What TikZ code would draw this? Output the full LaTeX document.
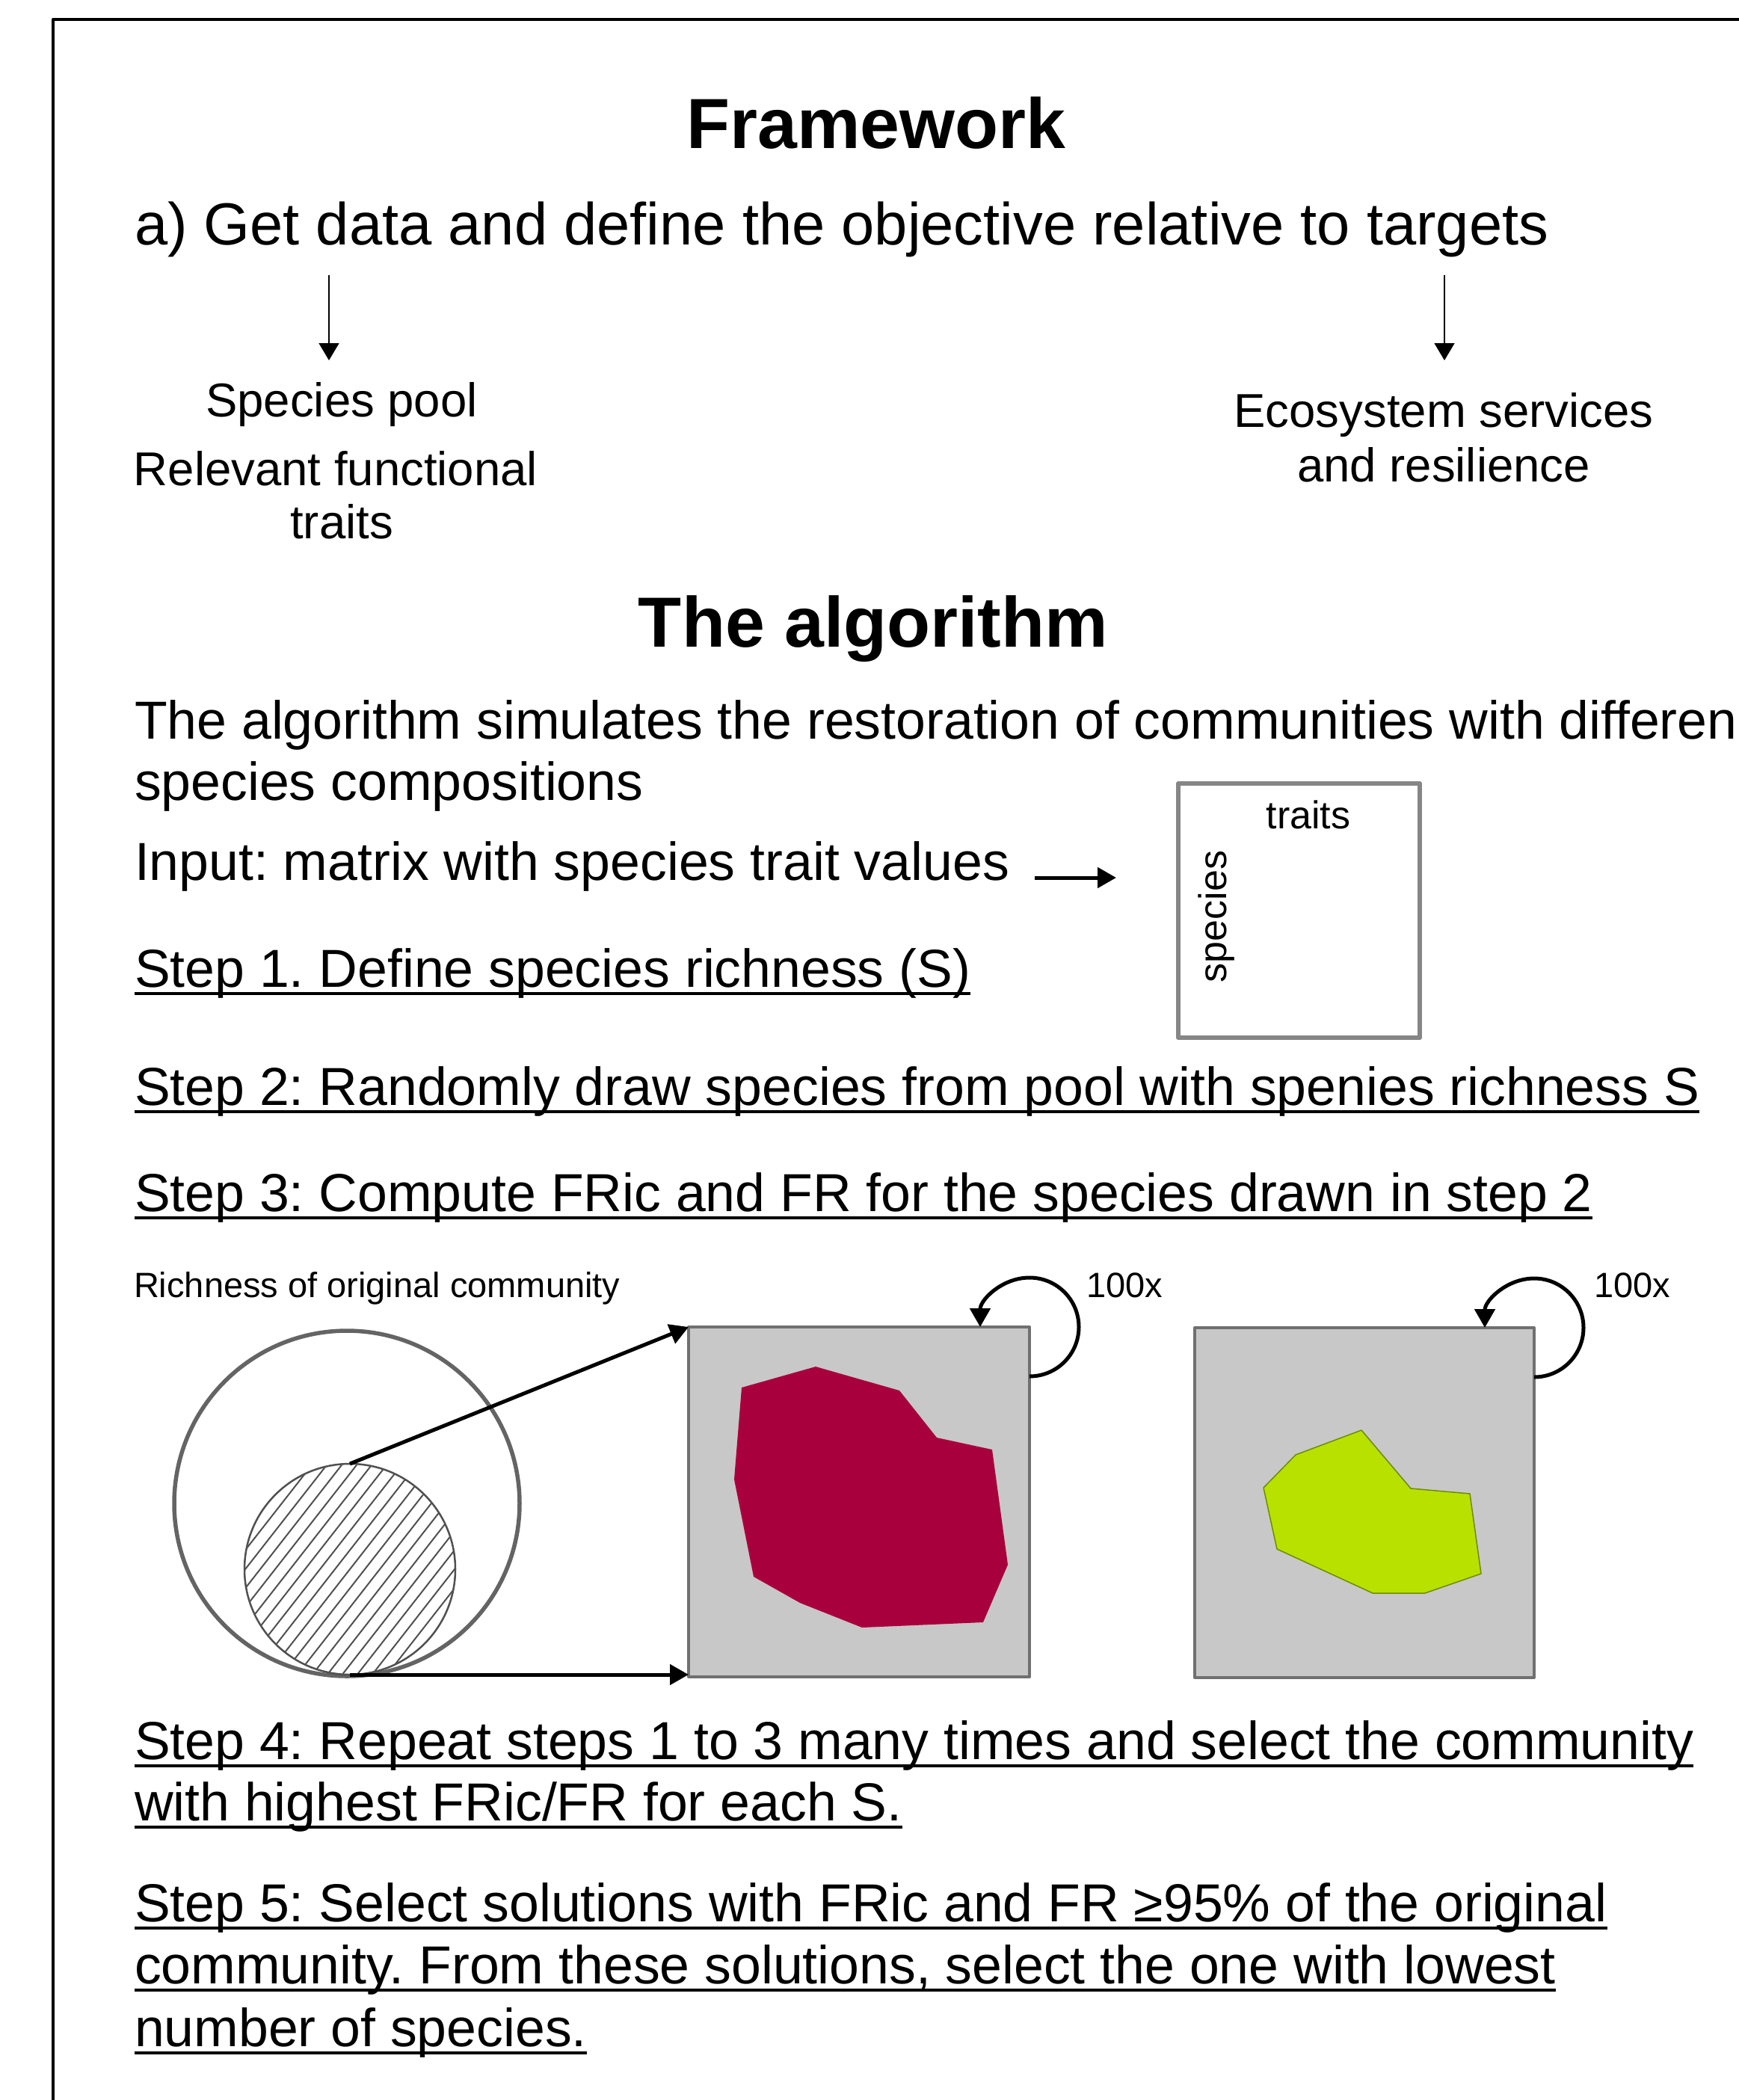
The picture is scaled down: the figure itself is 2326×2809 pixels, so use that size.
\documentclass[tikz,border=0pt]{standalone}
\usepackage{fontspec}
\setmainfont{Liberation Sans}
\usetikzlibrary{arrows.meta}

\definecolor{boxfill}{RGB}{200,200,200}
\definecolor{boxline}{RGB}{112,112,112}
\definecolor{hullred}{RGB}{168,0,60}
\definecolor{hullgreen}{RGB}{184,225,0}
\definecolor{hulledge}{RGB}{110,140,0}
\definecolor{ringgray}{RGB}{100,100,100}
\definecolor{hatchgray}{RGB}{80,80,80}
\definecolor{matgray}{RGB}{134,134,134}

\frenchspacing
\begin{document}
\begin{tikzpicture}[
  x=1pt, y=-1pt, line join=round,
  title/.style={inner sep=0, outer sep=0, anchor=base, font=\bfseries\fontsize{95}{110}\selectfont},
  lead/.style={inner sep=0, outer sep=0, anchor=base west, font=\fontsize{79.5}{92}\selectfont},
  mid/.style={inner sep=0, outer sep=0, anchor=base, font=\fontsize{63.5}{73}\selectfont},
  txt/.style={inner sep=0, outer sep=0, anchor=base west, font=\fontsize{71.6}{82}\selectfont},
  small/.style={inner sep=0, outer sep=0, anchor=base west, font=\fontsize{47}{54}\selectfont},
  mattxt/.style={inner sep=0, outer sep=0, anchor=base, font=\fontsize{52}{60}\selectfont},
  uline/.style={line width=4.5},
  thinarrow/.style={line width=1.5, -{Triangle[length=23pt,width=27pt]}},
  bigarrow/.style={line width=5, -{Triangle[length=25pt,width=27pt]}},
  simbox/.style={draw=boxline, fill=boxfill, line width=4, inner sep=0, outer sep=0},
]
\useasboundingbox (0,0) rectangle (2326,2809);
\begin{scope}
\clip (0,0) rectangle (2326,2809);

% outer frame (continues past the page edges)
\draw[line width=4] (2400,26) -- (71,26) -- (71,2900);

% ---------- Framework ----------
\node[title] (fw) at (1172,198) {Framework};
\node[lead] (geta) at (180,327) {a) Get data and define the objective relative to targets};

\coordinate (la) at (440,368);
\coordinate (lb) at (440,482);
\coordinate (ra) at (1932,368);
\coordinate (rb) at (1932,482);
\draw[thinarrow] (la) -- (lb);
\draw[thinarrow] (ra) -- (rb);

\node[mid] (pool) at (457,557) {Species pool};
\node[mid] (rel1) at (449,649) {Relevant functional};
\node[mid] (rel2) at (457,720) {traits};
\node[mid] (eco1) at (1931,571) {Ecosystem services};
\node[mid] (eco2) at (1931,644) {and resilience};

% ---------- The algorithm ----------
\node[title] (alg) at (1168,865) {The algorithm};
\node[txt] (sim1) at (180,988) {The algorithm simulates the restoration of communities with differen};
\node[txt] (sim2) at (180,1070) {species compositions};
\node[txt] (input) at (180,1177) {Input: matrix with species trait values};

% trait matrix
\node[draw=matgray, line width=6, minimum width=323, minimum height=340, inner sep=0, outer sep=0] (mat) at (1737.5,1218) {};
\node[mattxt] (traits) at (1750,1108) {traits};
\node[mattxt, rotate=90] (spec) at (1640,1226) {species};
\coordinate (ia) at (1384,1174);
\coordinate (ib) at (1493,1174);
\draw[bigarrow] (ia) -- (ib);

% steps 1-3
\node[txt] (s1) at (180,1320) {Step 1. Define species richness (S)};
\node[txt] (s2) at (180,1478) {Step 2: Randomly draw species from pool with spenies richness S};
\node[txt] (s3) at (180,1620) {Step 3: Compute FRic and FR for the species drawn in step 2};

% ---------- richness sketch ----------
\node[small] (rich) at (179,1735) {Richness of original community};

\node[circle, draw=ringgray, line width=5.5, minimum size=462, inner sep=0, outer sep=0] (orig) at (464,2011) {};
\begin{scope}
  \clip (468,2099) circle[radius=140];
  \foreach \k in {-15,...,15}
    \draw[hatchgray, line width=2] ({468+20*\k-140},2278) -- ({468+20*\k+140},1920);
\end{scope}
\node[circle, draw=hatchgray, line width=2.5, minimum size=282, inner sep=0, outer sep=0] (sub) at (468,2099) {};

% simulated trait spaces
\node[simbox, minimum width=456, minimum height=468] (redbox) at (1149,2009) {};
\node[simbox, minimum width=454, minimum height=468] (greenbox) at (1825,2010) {};

\fill[hullred] (992,1856) -- (1091,1828) -- (1203,1860) -- (1253,1923) -- (1327,1939)
  -- (1348,2093) -- (1315,2170) -- (1153,2177) -- (1070,2144) -- (1008,2109) -- (982,1979) -- cycle;
\filldraw[fill=hullgreen, draw=hulledge, line width=1.5] (1821,1913) -- (1887,1991) -- (1966,1998)
  -- (1981,2105) -- (1906,2131) -- (1836,2131) -- (1708,2072) -- (1690,1990) -- (1733,1946) -- cycle;

\draw[bigarrow] (sub.north) -- (redbox.north west);
\draw[bigarrow] (sub.south) -- (redbox.west |- sub.south);

% repetition loops
\draw[bigarrow] ([yshift=-66pt]redbox.north east) arc[start angle=90, end angle=-180, radius=66];
\draw[bigarrow] ([yshift=-66pt]greenbox.north east) arc[start angle=90, end angle=-180, radius=66];
\node[small] (rep1) at (1453,1735) {100x};
\node[small] (rep2) at (2132,1735) {100x};

% steps 4-5
\node[txt] (s4a) at (180,2353) {Step 4: Repeat steps 1 to 3 many times and select the community};
\node[txt] (s4b) at (180,2435) {with highest FRic/FR for each S.};
\node[txt] (s5a) at (180,2570) {Step 5: Select solutions with FRic and FR ≥95\% of the original};
\node[txt] (s5b) at (180,2653) {community. From these solutions, select the one with lowest};
\node[txt] (s5c) at (180,2737) {number of species.};

\foreach \n in {s1,s2,s3,s4a,s4b,s5a,s5b,s5c}
  \draw[uline] ([yshift=-9pt]\n.base west) -- ([yshift=-9pt]\n.base east);

\end{scope}
\end{tikzpicture}
\end{document}
